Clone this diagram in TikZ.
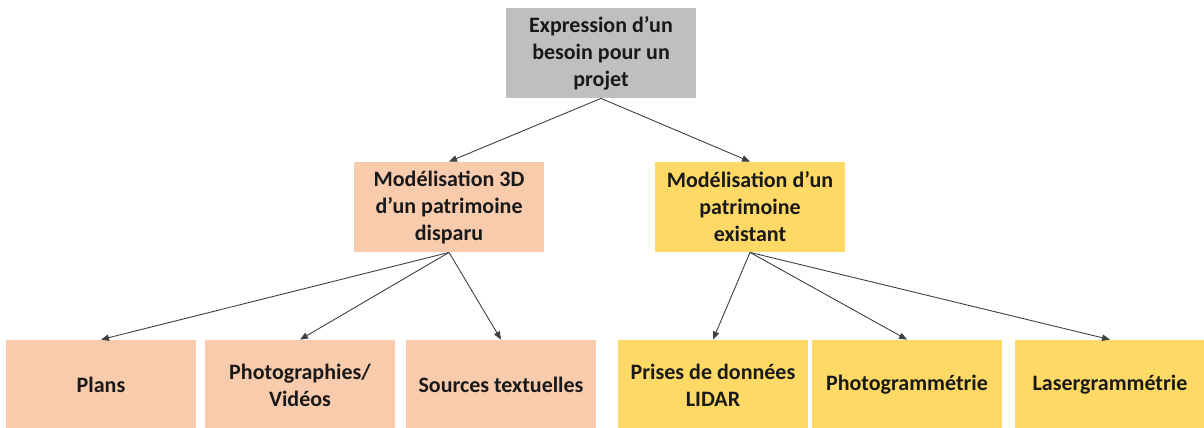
\documentclass[tikz,border=0pt]{standalone}
\usepackage{fontspec}
\setmainfont{Carlito}
\usetikzlibrary{arrows.meta, positioning}

\definecolor{grisbox}{HTML}{BFBFBF}
\definecolor{peche}{HTML}{F8CBAD}
\definecolor{jaune}{HTML}{FFD966}

\begin{document}
\begin{tikzpicture}[x=0.5pt, y=-0.5pt,
    boite/.style={minimum width=95pt, minimum height=45pt, inner sep=2pt,
        align=center, font=\fontsize{11}{13.5}\selectfont\bfseries, text=black!90},
    fleche/.style={draw=black!75, line width=0.45pt, -{Triangle[length=4pt, width=3.2pt]}}]

        % ==========================================
        % CADRE
        % ==========================================
        \useasboundingbox (0,0) rectangle (1204,428);

        % ==========================================
        % BESOIN (en haut)
        % ==========================================
        \node[boite, fill=grisbox] (besoin) at (601,53) {Expression d’un\\besoin pour un\\projet};

        % ==========================================
        % DEUX TYPES DE MODELISATION
        % ==========================================
        \node[boite, fill=peche] (disparu) at (449,207) {Modélisation 3D\\d’un patrimoine\\disparu};
        \node[boite, fill=jaune] (existant) at (750,207) {Modélisation d’un\\patrimoine\\existant};

        % ==========================================
        % SOURCES (en bas)
        % ==========================================
        % Patrimoine disparu
        \node[boite, fill=peche] (plans) at (101,385) {Plans};
        \node[boite, fill=peche] (photos) at (300,385) {Photographies/\\Vidéos};
        \node[boite, fill=peche] (textes) at (501,385) {Sources textuelles};
        % Patrimoine existant
        \node[boite, fill=jaune] (lidar) at (713,385) {Prises de données\\LIDAR};
        \node[boite, fill=jaune] (photogram) at (907,385) {Photogrammétrie};
        \node[boite, fill=jaune] (lasergram) at (1110,385) {Lasergrammétrie};

        % ==========================================
        % FLECHES
        % ==========================================
        \draw[fleche] (besoin.south) -- (disparu.north);
        \draw[fleche] (besoin.south) -- (existant.north);

        \draw[fleche] (disparu.south) -- (plans.north);
        \draw[fleche] (disparu.south) -- (photos.north);
        \draw[fleche] (disparu.south) -- (textes.north);

        \draw[fleche] (existant.south) -- (lidar.north);
        \draw[fleche] (existant.south) -- (photogram.north);
        \draw[fleche] (existant.south) -- (lasergram.north);

    \end{tikzpicture}
\end{document}
